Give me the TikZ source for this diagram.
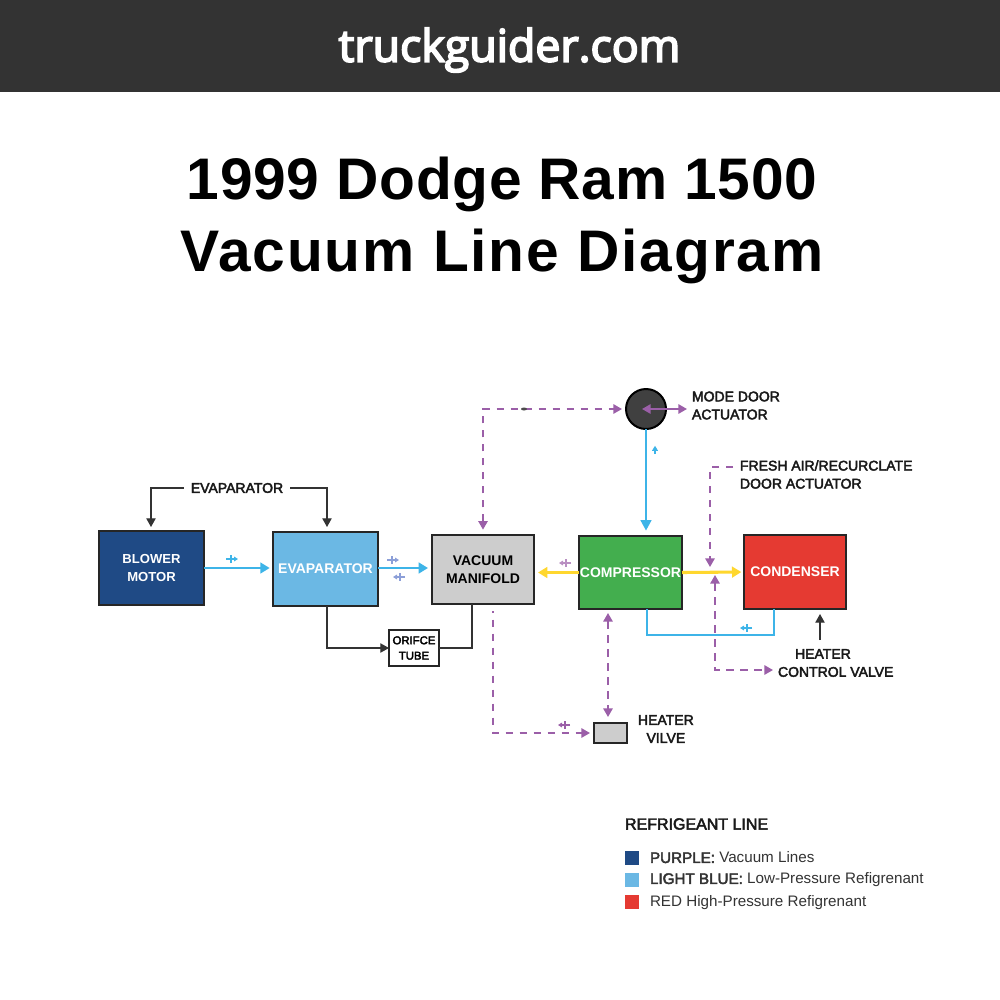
\documentclass[tikz,border=0pt]{standalone}
\usepackage{fontspec}
\setmainfont{Liberation Sans}
\newfontfamily\bannerfont{Open Sans}[FakeBold=4]
\newfontfamily\labelfont{Liberation Sans}[FakeBold=3]
\usetikzlibrary{arrows.meta}
\definecolor{bannergray}{HTML}{333333}
\definecolor{blowerblue}{HTML}{1F4A85}
\definecolor{evapblue}{HTML}{6BB8E4}
\definecolor{manifoldgray}{HTML}{CDCDCD}
\definecolor{compgreen}{HTML}{43AE4E}
\definecolor{condred}{HTML}{E53A32}
\definecolor{vacpurple}{HTML}{9B5FA8}
\definecolor{lowcyan}{HTML}{3DB4E8}
\definecolor{hotyellow}{HTML}{FFD72E}
\definecolor{markperi}{HTML}{8C9FD8}
\tikzset{
  boxnode/.style={draw=black!85,line width=1.5pt,inner sep=0pt,outer sep=0pt,align=center,font=\bfseries\fontsize{10.5}{13.5}\selectfont},
  lbltext/.style={inner sep=0pt,outer sep=0pt,align=left,anchor=west,text=black!90,font=\labelfont\fontsize{10.5}{13.5}\selectfont},
  keybox/.style={inner sep=0pt,outer sep=0pt,minimum size=10.5pt},
  keytext/.style={inner sep=0pt,outer sep=0pt,anchor=west,text=black!80,font=\fontsize{11.4}{13.5}\selectfont},
  ctrlline/.style={draw=black!80,line width=0.9pt,-{Triangle[length=6.5pt,width=7pt]}},
  vacline/.style={draw=vacpurple,line width=1.4pt,dash pattern=on 5.5pt off 5pt,-{Triangle[length=6.5pt,width=7pt]}},
  vactwo/.style={vacline,{Triangle[length=6.5pt,width=7pt]}-{Triangle[length=6.5pt,width=7pt]}},
  lowline/.style={draw=lowcyan,line width=2.2pt},
  hotline/.style={draw=hotyellow,line width=2.3pt,-{Triangle[length=7pt,width=8pt]}},
  flowmark/.pic={
    \draw[line width=1pt,-{Triangle[length=3pt,width=3.5pt]}] (-6,0) -- (6,0);
    \draw[line width=1pt] (-1,-4) -- (-1,4);
  }
}
\begin{document}
\begin{tikzpicture}[x=0.75pt,y=0.75pt,yscale=-1,xscale=1]
\useasboundingbox (0,0) rectangle (1000,1000);
\fill[white] (0,0) rectangle (1000,1000);

%Banner and title
\fill[bannergray] (0,0) rectangle (1000,92);
\node[text=white,font=\bannerfont\fontsize{33.5}{40}\selectfont] (banner) at (509.5,50) {truckguider.com};
\node[align=center,font=\bfseries\fontsize{44}{54}\selectfont] (title) at (502,220) {\addfontfeature{LetterSpace=1.2}1999 Dodge Ram 1500\\\addfontfeature{LetterSpace=3.2}Vacuum Line Diagram};

% Boxes
\node[boxnode,fill=blowerblue,text=white,minimum width=78.75pt,minimum height=55.5pt,font=\bfseries\fontsize{9.8}{13.5}\selectfont] (blower) at (151.5,568) {BLOWER\\MOTOR};
\node[boxnode,fill=evapblue,text=white,minimum width=78.75pt,minimum height=55.5pt] (evap) at (325.5,569) {EVAPARATOR};
\node[boxnode,fill=manifoldgray,text=black,minimum width=76.5pt,minimum height=51.75pt] (manifold) at (483,569.5) {VACUUM\\MANIFOLD};
\node[boxnode,fill=compgreen,text=white,minimum width=77.25pt,minimum height=54.75pt] (comp) at (630.5,572.5) {COMPRESSOR};
\node[boxnode,fill=condred,text=white,minimum width=76.5pt,minimum height=55.5pt] (cond) at (795,572) {CONDENSER};
\node[boxnode,fill=white,text=black,minimum width=37.5pt,minimum height=27pt,font=\labelfont\fontsize{8.5}{11.5}\selectfont] (orifice) at (414,648) {ORIFCE\\TUBE};
\node[boxnode,fill=manifoldgray,minimum width=24.75pt,minimum height=15pt] (valve) at (610.5,733) {};
\node[circle,draw=black,line width=1.5pt,fill=black!75,minimum size=30pt,inner sep=0pt,outer sep=0pt] (modedoor) at (646,409) {};

% Text Nodes
\node[lbltext,anchor=center] (evaplabel) at (237,488) {EVAPARATOR};
\node[lbltext] (modelabel) at (692,405.5) {MODE DOOR\\ACTUATOR};
\node[lbltext] (freshlabel) at (740,474.5) {FRESH AIR/RECURCLATE\\DOOR ACTUATOR};
\node[lbltext,align=left] (ctrllabel) at (778,663) {\hspace*{12.8pt}HEATER\\CONTROL VALVE};
\node[lbltext,align=center] (valvelabel) at (638,729) {HEATER\\VILVE};

% Control lines
\coordinate (blowertip) at (151,527);
\coordinate (evaptip) at (327,527);
\draw[ctrlline] (evaplabel.west) ++(-7,0) -| (blowertip);
\draw[ctrlline] (evaplabel.east) ++(7,0) -| (evaptip);
\coordinate (evapdrop) at (327,606);
\draw[ctrlline] (evapdrop) |- (orifice.west);
\coordinate (manifolddrop) at (472,604);
\draw[draw=black!80,line width=0.9pt] (orifice.east) -| (manifolddrop);
\coordinate (ctrlfoot) at (820,640);
\coordinate (ctrltip) at (820,614);
\draw[ctrlline] (ctrlfoot) -- (ctrltip);

% Refrigerant lines
\draw[lowline,-{Triangle[length=7pt,width=8pt]},shorten >=2.5pt] (blower.east |- 0,568) -- (evap.west |- 0,568);
\draw[lowline,-{Triangle[length=7pt,width=8pt]},shorten >=3pt] (evap.east |- 0,568) -- (manifold.west |- 0,568);
\draw[lowline,line width=1.9pt,-{Triangle[length=8pt,width=8pt]},shorten >=4pt] (modedoor.south) -- (modedoor.south |- comp.north);
\coordinate (compdrop) at (647,609);
\coordinate (conddrop) at (774,609);
\draw[lowline,line width=1.7pt] (compdrop) |- (710,635) -| (conddrop);
\draw[hotline,shorten >=3pt] (comp.west) -- (manifold.east |- comp.west);
\draw[hotline,shorten >=2pt] (comp.east) -- (cond.west);

% Vacuum lines
\draw[vactwo,shorten <=4pt,shorten >=3pt] (manifold.north) |- (modedoor.west);
\coordinate (modeleft) at (642,409);
\coordinate (moderight) at (687,409);
\draw[draw=vacpurple,line width=1.5pt,{Triangle[length=6.5pt,width=7pt]}-{Triangle[length=6.5pt,width=7pt]}] (modeleft) -- (moderight);
\coordinate (freshend) at (733,467);
\coordinate (freshtip) at (710,567);
\draw[vacline] (freshend) -| (freshtip);
\coordinate (crosstip) at (715,575);
\coordinate (crossend) at (773,670);
\draw[vactwo] (crosstip) |- (crossend);
\coordinate (comptap) at (608,613);
\coordinate (valvetap) at (608,717);
\draw[vactwo] (comptap) -- (valvetap);
\coordinate (manifoldtap) at (493,611);
\draw[vacline,dash phase=4pt,shorten >=3pt] (manifoldtap) |- (valve.west);

% Flow marks
\path (232,559) pic[lowcyan] {flowmark};
\path (393,560) pic[markperi] {flowmark};
\path (399,577) pic[rotate=180,markperi] {flowmark};
\path (565,563) pic[rotate=180,vacpurple!70] {flowmark};
\path (655,450) pic[rotate=90,lowcyan,scale=0.7] {flowmark};
\path (746,628) pic[rotate=180,lowcyan] {flowmark};
\path (564,725) pic[rotate=180,vacpurple] {flowmark};
\fill[black!70] (524,409) ellipse (3 and 1.5);

% Legend
\node[lbltext,font=\labelfont\fontsize{12}{14}\selectfont] (keytitle) at (625,824) {REFRIGEANT LINE};
\node[keybox,fill=blowerblue] (keyone) at (632,857.5) {};
\node[keybox,fill=evapblue] (keytwo) at (632,880) {};
\node[keybox,fill=condred] (keythree) at (632,902) {};
\node[keytext] (textone) at (650,857.5) {{\labelfont PURPLE:} Vacuum Lines};
\node[keytext] (texttwo) at (650,880) {{\labelfont LIGHT BLUE:} Low-Pressure Refigrenant};
\node[keytext] (textthree) at (650,902.5) {RED High-Pressure Refigrenant};
\end{tikzpicture}
\end{document}
